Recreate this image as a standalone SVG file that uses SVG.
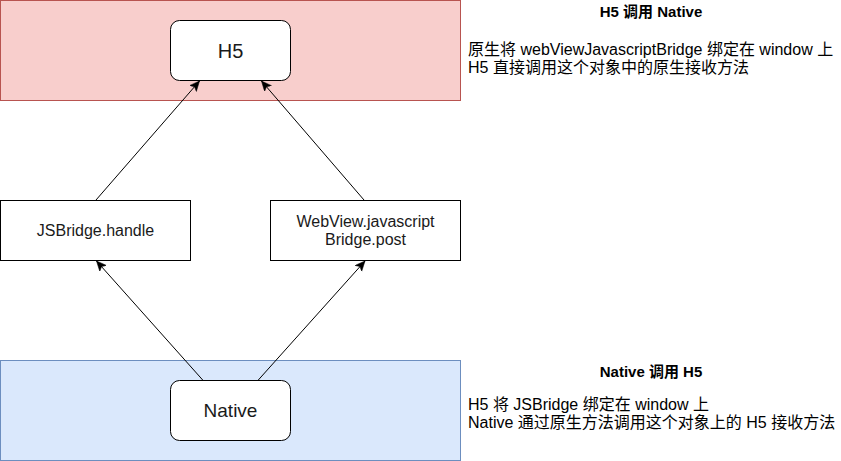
<svg xmlns="http://www.w3.org/2000/svg" width="841" height="461" viewBox="0 0 841 461">
<style>
.lane{stroke-width:1}
.node{fill:#ffffff;stroke:#000000;stroke-width:1}
.lbl{font-family:"Liberation Sans","Noto Sans CJK SC",Arial,sans-serif;fill:#1a1a1a;text-anchor:middle}
.note{font-family:"Liberation Sans","Noto Sans CJK SC",Arial,sans-serif;fill:#000000;font-size:16px}
.title{font-family:"Liberation Sans","Noto Sans CJK SC",Arial,sans-serif;fill:#000000;font-size:15px;font-weight:bold;text-anchor:middle}
.edge{stroke:#000000;stroke-width:1;fill:none;marker-end:url(#arr)}
</style>
<defs>
<marker id="arr" markerUnits="userSpaceOnUse" markerWidth="12" markerHeight="10" refX="10" refY="4.5" orient="auto">
<path d="M0,0 L10,4.5 L0,9 L2.5,4.5 Z" fill="#000000" stroke="#000000" stroke-width="0.5"/>
</marker>
</defs>
<rect width="841" height="461" fill="#ffffff"/>
<g id="lane-h5">
<rect class="lane" x="0.5" y="0.5" width="460" height="100" fill="#f8cecc" stroke="#b85450"/>
</g>
<g id="lane-native">
<rect class="lane" x="0.5" y="360.5" width="460" height="100" fill="#dae8fc" stroke="#6c8ebf"/>
</g>
<g id="connectors">
<line class="edge" x1="96" y1="200" x2="199.5" y2="81"/>
<line class="edge" x1="364" y1="200" x2="261.5" y2="81"/>
<line class="edge" x1="202.7" y1="380" x2="96.5" y2="261"/>
<line class="edge" x1="258.3" y1="380" x2="365" y2="261"/>
</g>
<g id="node-h5">
<rect class="node" x="170.5" y="20.5" width="120" height="60" rx="9" ry="9"/>
<text class="lbl" x="230.5" y="57.5" font-size="20">H5</text>
</g>
<g id="node-jsbridge">
<rect class="node" x="0.5" y="200.5" width="190" height="60"/>
<text class="lbl" x="95.5" y="236" font-size="16">JSBridge.handle</text>
</g>
<g id="node-webview">
<rect class="node" x="270.5" y="200.5" width="190" height="60"/>
<text class="lbl" x="365.5" y="227" font-size="16">WebView.javascript</text>
<text class="lbl" x="365.5" y="245" font-size="16">Bridge.post</text>
</g>
<g id="node-native">
<rect class="node" x="170.5" y="380.5" width="120" height="60" rx="9" ry="9"/>
<text class="lbl" x="230.5" y="417" font-size="19">Native</text>
</g>
<g id="note-h5-native">
<text class="title" x="651" y="17">H5 调用 Native</text>
<text class="note" x="468" y="55">原生将 webViewJavascriptBridge 绑定在 window 上</text>
<text class="note" x="468" y="72.5">H5 直接调用这个对象中的原生接收方法</text>
</g>
<g id="note-native-h5">
<text class="title" x="651" y="377">Native 调用 H5</text>
<text class="note" x="468" y="410">H5 将 JSBridge 绑定在 window 上</text>
<text class="note" x="468" y="427.5">Native 通过原生方法调用这个对象上的 H5 接收方法</text>
</g>
</svg>
